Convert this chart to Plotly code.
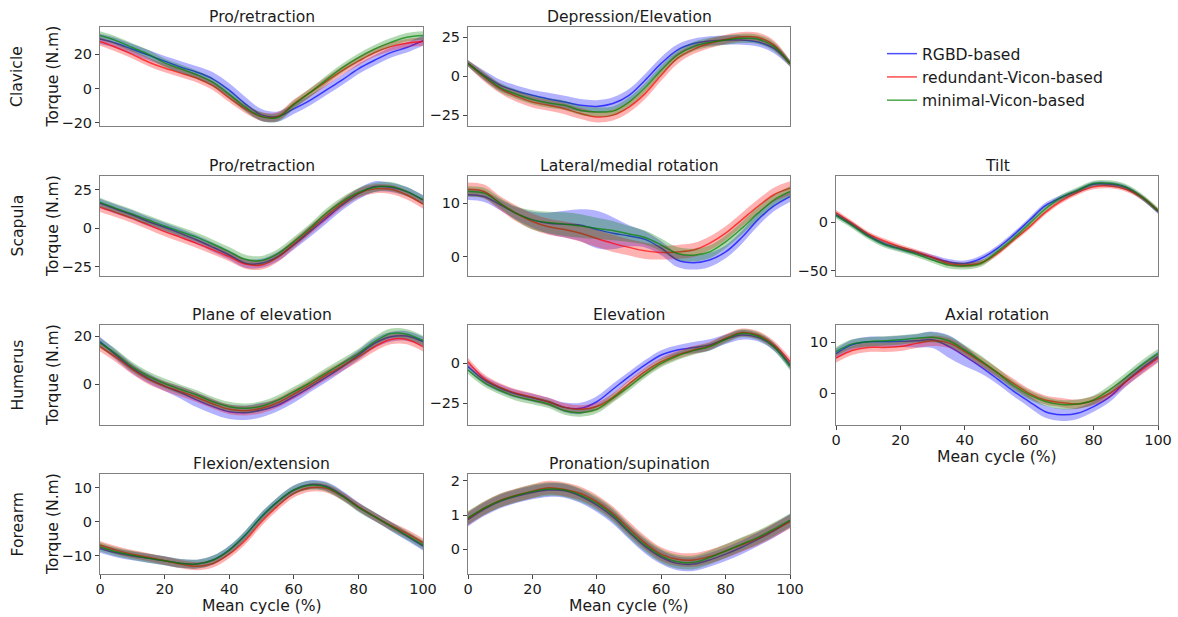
import plotly.graph_objects as go

W, H = 1178, 617

# ---------------- data ----------------
cycle = [0, 5, 10, 15, 20, 25, 30, 35, 40, 45, 50, 55, 60, 65, 70, 75, 80, 85, 90, 95, 100]
series_names = ["RGBD-based", "redundant-Vicon-based", "minimal-Vicon-based"]
row_names = ["Clavicle", "Scapula", "Humerus", "Forearm"]

# Clavicle - Pro/retraction
clav_pro_rgbd = [29, 26.5, 23, 19.5, 16, 12.5, 9.5, 5.5, -1, -9, -15.5, -16.5, -12, -7, -1, 5, 11.5, 16.5, 21, 24, 28]
clav_pro_red = [27.5, 24, 20, 15.5, 12, 9, 6, 1.5, -5.5, -12, -16.5, -16.5, -9, -2.5, 4, 10.5, 16, 21, 24.5, 26.5, 27.5]
clav_pro_min = [31, 28, 24, 20, 15, 11.5, 8, 3.5, -3.5, -11, -16.5, -17, -9.5, -2.5, 5, 12, 18, 23, 27, 30, 31]
clav_pro_rgbd_sd = [3, 3, 3, 3, 3, 3.5, 3.5, 4, 4, 4, 3.5, 3, 3, 3, 3, 3, 3, 3, 3, 3, 3]
clav_pro_red_sd = [2.5, 2.5, 2.5, 2.5, 2.5, 2.5, 2.5, 2.5, 2.5, 2.5, 2.5, 2.5, 2.5, 2.5, 2.5, 2.5, 2.5, 2.5, 2.5, 2.5, 2.5]
clav_pro_min_sd = [2.5, 2.5, 2.5, 2.5, 2.5, 2.5, 2.5, 2.5, 2.5, 2.5, 2.5, 2.5, 2.5, 2.5, 2.5, 2.5, 2.5, 2.5, 2.5, 2.5, 2.5]

# Clavicle - Depression/Elevation
clav_dep_rgbd = [8.2, 0.6, -5.8, -9.5, -12.3, -14.6, -16.6, -18.7, -19.4, -17.6, -12.3, -2.6, 8.2, 16.8, 21, 22.6, 23.2, 23.2, 22, 17.8, 8.2]
clav_dep_red = [8.2, -0.4, -8, -13, -16.6, -18.7, -20.9, -24, -26.2, -25, -19.8, -11.2, 0.6, 11.4, 17.2, 21, 23.7, 25.4, 25, 20, 8.2]
clav_dep_min = [8.2, 0, -7.3, -11.6, -15, -17.2, -18.7, -22, -23, -22.4, -16.6, -7.3, 3.9, 13.5, 19, 21.7, 23.2, 24.3, 23.7, 19, 8.2]
clav_dep_rgbd_sd = [2, 3, 3.5, 3.5, 3.5, 4, 4, 4, 4, 4, 4, 4, 4, 3.5, 3, 3, 3, 3, 3, 3, 2]
clav_dep_red_sd = [2, 3, 3, 3.5, 3.5, 3.5, 3.5, 3.5, 3.5, 3.5, 3.5, 3.5, 3.5, 3.5, 3, 3, 3, 3, 3, 3, 2]
clav_dep_min_sd = [2, 2.5, 3, 3, 3, 3, 3, 3, 3, 3, 3, 3, 3, 3, 3, 3, 3, 3, 3, 3, 2]

# Scapula - Pro/retraction
scap_pro_rgbd = [16.3, 12.4, 8.7, 4.3, 0.7, -3.3, -7.6, -12.4, -17.4, -22.8, -22.8, -18.5, -10.9, -2.2, 6.5, 15.2, 22.4, 27.2, 26.7, 23.9, 18.5]
scap_pro_red = [13.7, 10.2, 6.5, 2.2, -2.2, -5.9, -9.8, -14.1, -18.5, -23.3, -23.9, -18.9, -10.2, -1.1, 8, 16.3, 22.8, 25.7, 25.4, 21.7, 15.7]
scap_pro_min = [17, 13, 9.3, 5.4, 1.5, -2.2, -5.9, -10.4, -15.2, -20.2, -21, -16.7, -8.7, 0, 9.8, 17.4, 23.3, 26.7, 27.2, 23.9, 18.5]
scap_pro_rgbd_sd = [3, 3, 3, 3, 3, 3, 3, 3, 3, 3, 3, 3, 3, 3.5, 3.5, 3.5, 3.5, 3.5, 3, 3, 3]
scap_pro_red_sd = [3, 3, 3, 3, 3, 3, 3, 3, 3, 3, 3, 3, 3, 3, 3, 3, 3, 3, 3, 3, 3]
scap_pro_min_sd = [3, 3, 3, 3, 3, 3, 3, 3, 3, 3, 3, 3, 3, 3, 3, 3, 3, 3, 3, 3, 3]

# Scapula - Lateral/medial rotation
scap_lat_rgbd = [11.6, 11.25, 9.7, 8.1, 6.9, 6.25, 6.1, 5.9, 5.1, 4.4, 3.9, 3.25, 1.6, -0.6, -1.1, -0.6, 0.9, 3.6, 6.9, 9.5, 11.25]
scap_lat_red = [12.6, 12.2, 10, 8.1, 6.6, 5.6, 5.1, 4.4, 3.4, 2.5, 1.75, 1.1, 0.8, 0.9, 1.25, 2.5, 4.4, 6.9, 9.4, 11.6, 12.8]
scap_lat_min = [12.2, 11.9, 10, 8.1, 6.9, 6.4, 6.1, 5.75, 5.3, 4.9, 4.25, 3.6, 2.2, 0.6, 0.3, 0.9, 2.8, 5.3, 8.1, 10.6, 12.2]
scap_lat_rgbd_sd = [1, 1, 1, 1.2, 1.5, 2, 2.5, 3, 3.5, 3, 2, 1.5, 1.3, 1.3, 1.3, 1.3, 1.2, 1.2, 1.2, 1, 1]
scap_lat_red_sd = [1.3, 1.3, 1.3, 1.5, 1.5, 1.5, 1.5, 1.6, 1.6, 1.6, 1.5, 1.5, 1.3, 1.3, 1.3, 1.3, 1.3, 1.3, 1.3, 1.3, 1.3]
scap_lat_min_sd = [1, 1, 1, 1.3, 1.8, 2, 2.2, 2.2, 2, 1.8, 1.5, 1.3, 1.2, 1.2, 1.2, 1.2, 1.2, 1.2, 1.2, 1, 1]

# Scapula - Tilt
scap_tilt_rgbd = [7.8, -2.4, -13.6, -22, -27.2, -31.6, -36.4, -40.8, -42.5, -37.4, -27.2, -13.6, 1.7, 17, 25.5, 32.3, 39.1, 39.1, 35.7, 25.5, 11.2]
scap_tilt_red = [10, -1, -12, -19.4, -25.5, -30.6, -36.4, -42.5, -44.2, -41.8, -32.3, -18.7, -5.1, 10.2, 22.1, 30.6, 36.4, 37.4, 34, 25.5, 11.9]
scap_tilt_min = [6.8, -3.4, -14.6, -23, -28, -33, -39, -44.2, -45.2, -42.5, -30.6, -17, -1.7, 13.6, 25.5, 33, 39.8, 40.1, 36.4, 26.2, 11.9]
scap_tilt_rgbd_sd = [2.5, 2.5, 2.5, 2.5, 2.5, 2.5, 3, 3, 3, 3, 3, 3, 3, 3, 2.5, 2.5, 2.5, 2.5, 2.5, 2.5, 2.5]
scap_tilt_red_sd = [2.5, 2.5, 2.5, 2.5, 2.5, 2.5, 2.5, 2.5, 2.5, 2.5, 2.5, 2.5, 2.5, 2.5, 2.5, 2.5, 2.5, 2.5, 2.5, 2.5, 2.5]
scap_tilt_min_sd = [3, 3, 3, 3, 3, 3, 3, 3.5, 3.5, 3.5, 3, 3, 3, 3, 3, 3, 3, 3, 3, 3, 3]

# Humerus - Plane of elevation
hum_poe_rgbd = [17.7, 12.1, 6.6, 2.5, -0.7, -3.4, -6.5, -9.2, -11.3, -11.7, -10.6, -8.6, -5.1, -1.2, 2.9, 7.3, 12.1, 17, 19.7, 20, 17.7]
hum_poe_red = [15.6, 11.2, 6.2, 2.1, -0.7, -3, -5.4, -8.1, -10.3, -10.9, -9.9, -7.6, -4, -0.3, 3.9, 7.6, 11.4, 15.6, 18.6, 18.6, 15.6]
hum_poe_min = [17.2, 12.6, 7.3, 3.4, 0.4, -2.1, -4.4, -7.2, -9.2, -9.9, -9, -6.5, -3, 0.7, 4.8, 8.7, 12.8, 17.7, 21.1, 20.8, 18.1]
hum_poe_rgbd_sd = [2, 2, 2, 2, 2, 2.5, 3, 3, 3, 3, 3, 2.5, 2.5, 2, 2, 2, 2, 2, 2, 2, 2]
hum_poe_red_sd = [2, 2, 2, 2, 2, 2, 2, 2, 2, 2, 2, 2, 2, 2, 2, 2, 2, 2, 2, 2, 2]
hum_poe_min_sd = [2, 2, 2, 2, 2, 2, 2, 2, 2, 2, 2, 2, 2, 2, 2, 2, 2, 2, 2, 2, 2]

# Humerus - Elevation
hum_ele_rgbd = [-2, -10.4, -15.6, -19.2, -21.5, -24, -27.5, -28.1, -24, -16.2, -8.3, -1, 5.2, 8.3, 9.8, 11.5, 15, 17.7, 16.2, 10.4, -1]
hum_ele_red = [1, -9.4, -15, -18.7, -21.2, -24, -27.5, -28.7, -27, -21.2, -12.9, -5.2, 1, 5.2, 8.3, 10.8, 15.6, 19.2, 17.7, 11.5, 1]
hum_ele_min = [-4.2, -12, -17, -20.8, -23, -25.4, -29.6, -30.8, -28.7, -21.9, -14.6, -6.7, 0, 4.6, 7.9, 10.4, 15, 18.7, 17, 10.4, -2]
hum_ele_rgbd_sd = [2.5, 2.5, 2.5, 2.5, 2.5, 2.5, 3, 3.5, 3.5, 3.5, 3, 3, 3, 3, 3.5, 3.5, 3, 3, 2.5, 2.5, 2.5]
hum_ele_red_sd = [2.5, 2.5, 2.5, 2.5, 2.5, 2.5, 2.5, 2.5, 2.5, 2.5, 2.5, 2.5, 2.5, 2.5, 2.5, 2.5, 2.5, 2.5, 2.5, 2.5, 2.5]
hum_ele_min_sd = [2.5, 2.5, 2.5, 2.5, 2.5, 2.5, 2.5, 2.5, 2.5, 2.5, 2.5, 2.5, 2.5, 2.5, 2.5, 2.5, 2.5, 2.5, 2.5, 2.5, 2.5]

# Humerus - Axial rotation
hum_axr_rgbd = [7.8, 9.5, 10.1, 10.1, 10.2, 10.3, 10.5, 9.2, 7.3, 5.2, 2.9, 0.5, -1.6, -3.6, -4.2, -3.9, -2.6, -0.7, 2.3, 4.9, 7.2]
hum_axr_red = [6.9, 8.4, 9, 9, 9.2, 9.8, 10.3, 9.9, 8.2, 6.2, 4.1, 2, 0, -1.3, -1.8, -2.1, -1.4, 0, 2.3, 4.6, 6.9]
hum_axr_min = [8.2, 9.7, 10.1, 10.3, 10.5, 10.8, 11, 10.3, 8.5, 6.4, 4.1, 1.6, -0.3, -1.6, -2.2, -2.1, -1.3, 0.7, 3.1, 5.6, 7.8]
hum_axr_rgbd_sd = [1, 1, 1, 1, 1.1, 1.3, 1.6, 2.2, 2, 1.3, 1, 1, 1.1, 1.2, 1.2, 1.1, 1, 1, 1, 1, 1]
hum_axr_red_sd = [0.9, 0.9, 0.9, 0.9, 0.9, 0.9, 1, 1, 1, 1, 0.9, 0.9, 0.9, 0.9, 0.9, 0.9, 0.9, 0.9, 0.9, 0.9, 0.9]
hum_axr_min_sd = [0.9, 0.9, 0.9, 0.9, 0.9, 0.9, 1, 1, 1, 1, 0.9, 0.9, 0.9, 0.9, 0.9, 0.9, 0.9, 0.9, 0.9, 0.9, 0.9]

# Forearm - Flexion/extension
fore_flx_rgbd = [-7.8, -9.1, -10, -10.7, -11.4, -12.2, -12.4, -11.2, -8.3, -3.9, 1.5, 5.9, 9.3, 10.9, 10.4, 7.8, 4.4, 1.5, -1.3, -4.2, -7.1]
fore_flx_red = [-6.8, -8.3, -9.5, -10.4, -11.4, -12.4, -13, -12.2, -9.5, -5.4, 0, 4.6, 8.3, 10, 9.8, 7.5, 4.4, 1.5, -1.1, -3.4, -6.1]
fore_flx_min = [-7.3, -8.8, -9.8, -10.7, -11.4, -12.2, -12.4, -11.2, -8.3, -3.9, 1.5, 5.9, 9.3, 10.7, 10.2, 7.5, 4.2, 1.5, -1.3, -4, -6.8]
fore_flx_rgbd_sd = [1.3, 1.3, 1.3, 1.3, 1.3, 1.3, 1.3, 1.3, 1.3, 1.3, 1.3, 1.3, 1.3, 1.3, 1.3, 1.3, 1.3, 1.3, 1.3, 1.3, 1.3]
fore_flx_red_sd = [1.2, 1.2, 1.2, 1.2, 1.2, 1.2, 1.2, 1.2, 1.2, 1.2, 1.2, 1.2, 1.2, 1.2, 1.2, 1.2, 1.2, 1.2, 1.2, 1.2, 1.2]
fore_flx_min_sd = [1.3, 1.3, 1.3, 1.3, 1.3, 1.3, 1.3, 1.3, 1.3, 1.3, 1.3, 1.3, 1.3, 1.3, 1.3, 1.3, 1.3, 1.3, 1.3, 1.3, 1.3]

# Forearm - Pronation/supination
fore_pro_rgbd = [0.87, 1.17, 1.4, 1.55, 1.66, 1.73, 1.71, 1.55, 1.29, 0.95, 0.5, 0.08, -0.23, -0.41, -0.43, -0.31, -0.14, 0.06, 0.29, 0.54, 0.83]
fore_pro_red = [0.9, 1.2, 1.43, 1.58, 1.7, 1.8, 1.75, 1.63, 1.39, 1.05, 0.61, 0.19, -0.14, -0.29, -0.31, -0.21, -0.05, 0.13, 0.32, 0.56, 0.81]
fore_pro_min = [0.92, 1.2, 1.42, 1.57, 1.69, 1.76, 1.73, 1.58, 1.34, 1.0, 0.54, 0.13, -0.19, -0.36, -0.38, -0.24, -0.05, 0.15, 0.35, 0.59, 0.85]
fore_pro_rgbd_sd = [0.2, 0.2, 0.2, 0.2, 0.2, 0.2, 0.2, 0.2, 0.2, 0.2, 0.2, 0.2, 0.2, 0.2, 0.2, 0.2, 0.2, 0.2, 0.2, 0.2, 0.2]
fore_pro_red_sd = [0.2, 0.2, 0.2, 0.2, 0.2, 0.2, 0.2, 0.2, 0.2, 0.2, 0.2, 0.2, 0.2, 0.2, 0.2, 0.2, 0.2, 0.2, 0.2, 0.2, 0.2]
fore_pro_min_sd = [0.2, 0.2, 0.2, 0.2, 0.2, 0.2, 0.2, 0.2, 0.2, 0.2, 0.2, 0.2, 0.2, 0.2, 0.2, 0.2, 0.2, 0.2, 0.2, 0.2, 0.2]

x_ticks = [0, 20, 40, 60, 80, 100]

# ---------------- layout / styling ----------------
FONT = "DejaVu Sans"
TXT = "#1a1a1a"
SPINE = "#808080"
TICK = "#444444"
COLS = ["0,0,255", "255,0,0", "0,128,0"]

col_x = [(100, 423), (468, 790), (836, 1158)]
row_y = [(27, 126), (176, 276), (325, 425), (474, 574)]

panels = [
    dict(title="Pro/retraction", r=0, c=0, m=(clav_pro_rgbd, clav_pro_red, clav_pro_min),
         s=(clav_pro_rgbd_sd, clav_pro_red_sd, clav_pro_min_sd), yr=[-22, 36], dt=20, xl=False),
    dict(title="Depression/Elevation", r=0, c=1, m=(clav_dep_rgbd, clav_dep_red, clav_dep_min),
         s=(clav_dep_rgbd_sd, clav_dep_red_sd, clav_dep_min_sd), yr=[-32, 31.6], dt=25, xl=False),
    dict(title="Pro/retraction", r=1, c=0, m=(scap_pro_rgbd, scap_pro_red, scap_pro_min),
         s=(scap_pro_rgbd_sd, scap_pro_red_sd, scap_pro_min_sd), yr=[-31.1, 34.1], dt=25, xl=False),
    dict(title="Lateral/medial rotation", r=1, c=1, m=(scap_lat_rgbd, scap_lat_red, scap_lat_min),
         s=(scap_lat_rgbd_sd, scap_lat_red_sd, scap_lat_min_sd), yr=[-3.6, 15.1], dt=10, xl=False),
    dict(title="Tilt", r=1, c=2, m=(scap_tilt_rgbd, scap_tilt_red, scap_tilt_min),
         s=(scap_tilt_rgbd_sd, scap_tilt_red_sd, scap_tilt_min_sd), yr=[-55.4, 47.6], dt=50, xl=False),
    dict(title="Plane of elevation", r=2, c=0, m=(hum_poe_rgbd, hum_poe_red, hum_poe_min),
         s=(hum_poe_rgbd_sd, hum_poe_red_sd, hum_poe_min_sd), yr=[-16.8, 24.6], dt=20, xl=False),
    dict(title="Elevation", r=2, c=1, m=(hum_ele_rgbd, hum_ele_red, hum_ele_min),
         s=(hum_ele_rgbd_sd, hum_ele_red_sd, hum_ele_min_sd), yr=[-38.5, 23.9], dt=25, xl=False),
    dict(title="Axial rotation", r=2, c=2, m=(hum_axr_rgbd, hum_axr_red, hum_axr_min),
         s=(hum_axr_rgbd_sd, hum_axr_red_sd, hum_axr_min_sd), yr=[-6.2, 13.4], dt=10, xl=True),
    dict(title="Flexion/extension", r=3, c=0, m=(fore_flx_rgbd, fore_flx_red, fore_flx_min),
         s=(fore_flx_rgbd_sd, fore_flx_red_sd, fore_flx_min_sd), yr=[-15.3, 14], dt=10, xl=True),
    dict(title="Pronation/supination", r=3, c=1, m=(fore_pro_rgbd, fore_pro_red, fore_pro_min),
         s=(fore_pro_rgbd_sd, fore_pro_red_sd, fore_pro_min_sd), yr=[-0.72, 2.2], dt=1, xl=True),
]

fig = go.Figure()
layout = {}
annotations = []

def px_x(p):
    return p / W

def px_y(p):
    return 1 - p / H

for i, p in enumerate(panels):
    k = "" if i == 0 else str(i + 1)
    xa, ya = "x" + k, "y" + k
    x0, x1 = col_x[p["c"]]
    y0, y1 = row_y[p["r"]]
    layout["xaxis" + k] = dict(
        domain=[px_x(x0), px_x(x1)], anchor=ya, range=[0, 100], automargin=False,
        showline=True, mirror=True, linecolor=SPINE, linewidth=1,
        showgrid=False, zeroline=False,
        tickvals=x_ticks if p["xl"] else [], ticks="outside" if p["xl"] else "",
        ticklen=4, tickcolor=TICK, showticklabels=p["xl"], ticklabelstandoff=-2,
        tickfont=dict(family=FONT, size=14.5, color=TXT),
    )
    layout["yaxis" + k] = dict(
        domain=[px_y(y1), px_y(y0)], anchor=xa, range=p["yr"], automargin=False,
        showline=True, mirror=True, linecolor=SPINE, linewidth=1,
        showgrid=False, zeroline=False, dtick=p["dt"], tick0=0,
        ticks="outside", ticklen=4, tickcolor=TICK,
        tickfont=dict(family=FONT, size=14.5, color=TXT),
    )
    for j in range(3):
        mean, sd = p["m"][j], p["s"][j]
        lo = [m - s for m, s in zip(mean, sd)]
        hi = [m + s for m, s in zip(mean, sd)]
        fig.add_trace(go.Scatter(x=cycle, y=lo, xaxis=xa, yaxis=ya, mode="lines",
                                 line=dict(width=0, shape="spline", color="rgba(%s,0)" % COLS[j]),
                                 showlegend=False, hoverinfo="skip"))
        fig.add_trace(go.Scatter(x=cycle, y=hi, xaxis=xa, yaxis=ya, mode="lines",
                                 line=dict(width=0, shape="spline", color="rgba(%s,0)" % COLS[j]),
                                 fill="tonexty", fillcolor="rgba(%s,0.3)" % COLS[j],
                                 showlegend=False, hoverinfo="skip"))
        fig.add_trace(go.Scatter(x=cycle, y=mean, xaxis=xa, yaxis=ya, mode="lines",
                                 line=dict(width=1.5, shape="spline", color="rgba(%s,0.7)" % COLS[j]),
                                 name=series_names[j], showlegend=(i == 0), legendgroup=series_names[j]))
    # subplot title
    annotations.append(dict(text=p["title"], x=px_x((x0 + x1) / 2), y=px_y(y0 - 10),
                            xref="paper", yref="paper", showarrow=False, xanchor="center",
                            yanchor="middle", font=dict(family=FONT, size=15.6, color=TXT)))
    if p["xl"]:
        annotations.append(dict(text="Mean cycle (%)", x=px_x((x0 + x1) / 2), y=px_y(y1 + 32),
                                xref="paper", yref="paper", showarrow=False, xanchor="center",
                                yanchor="middle", font=dict(family=FONT, size=15.6, color=TXT)))

for r, name in enumerate(row_names):
    y0, y1 = row_y[r]
    annotations.append(dict(text=name, x=px_x(17.5), y=px_y((y0 + y1) / 2), textangle=-90,
                            xref="paper", yref="paper", showarrow=False, xanchor="center",
                            yanchor="middle", font=dict(family=FONT, size=15.6, color=TXT)))
    annotations.append(dict(text="Torque (N.m)", x=px_x(53), y=px_y((y0 + y1) / 2), textangle=-90,
                            xref="paper", yref="paper", showarrow=False, xanchor="center",
                            yanchor="middle", font=dict(family=FONT, size=15.6, color=TXT)))

fig.update_layout(
    width=W, height=H, margin=dict(l=0, r=0, t=0, b=0, pad=0, autoexpand=False),
    paper_bgcolor="white", plot_bgcolor="white",
    annotations=annotations,
    legend=dict(x=px_x(882), y=px_y(37), xanchor="left", yanchor="top",
                font=dict(family=FONT, size=15.6, color=TXT), bgcolor="rgba(0,0,0,0)",
                tracegroupgap=0),
    **layout,
)

fig.write_html("out.html",
               post_script="document.body.style.margin='0px';document.body.style.overflow='hidden';")
